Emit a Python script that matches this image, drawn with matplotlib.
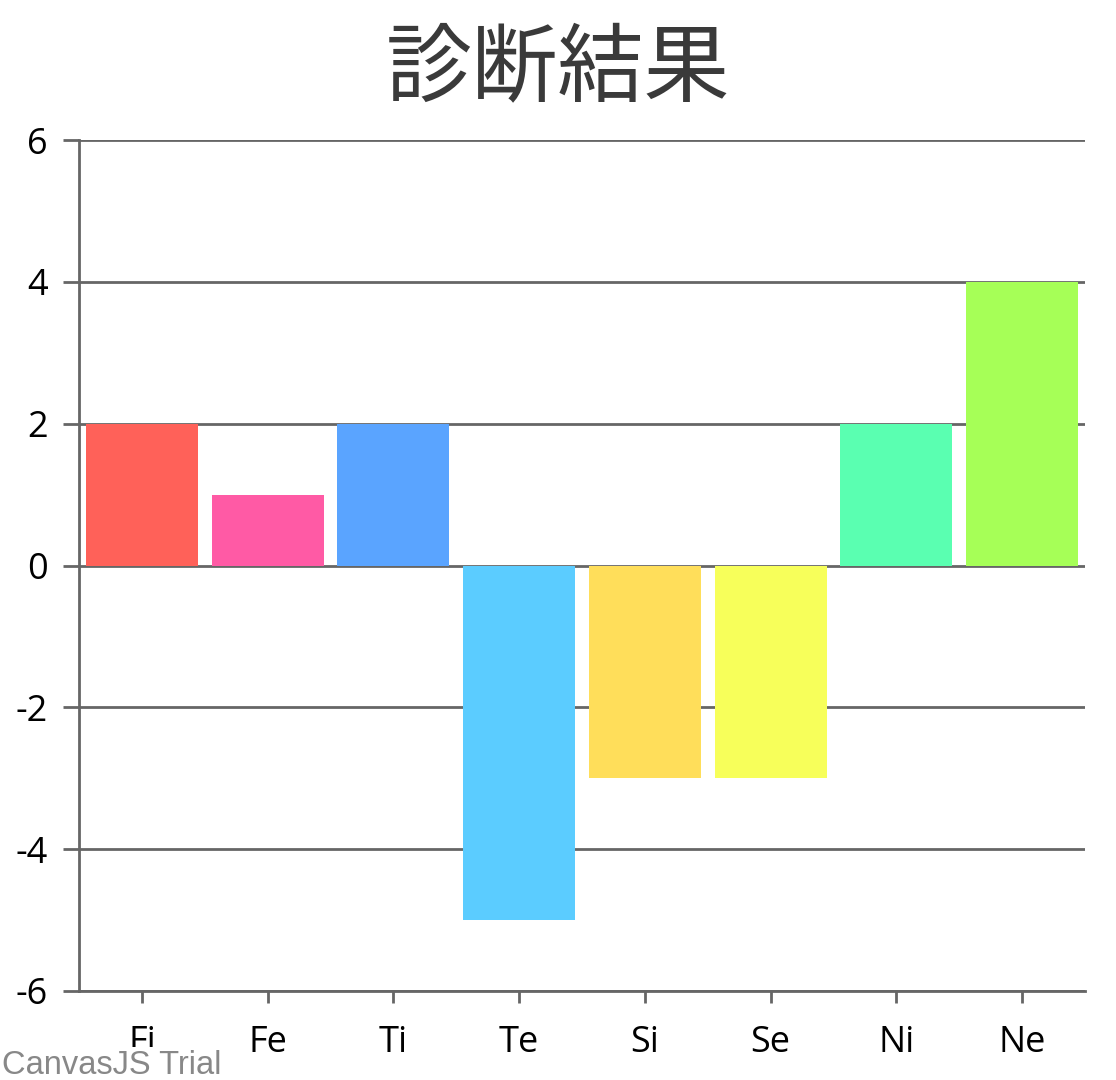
import matplotlib
matplotlib.use("Agg")

import matplotlib.pyplot as plt

# Datos del gráfico
categorias = ["Fi", "Fe", "Ti", "Te", "Si", "Se", "Ni", "Ne"]
valores = [2, 1, 2, -5, -3, -3, 2, 4]
colores = ["#FF6159", "#FF5AA5", "#5AA4FF", "#5BCCFF",
           "#FFDE5A", "#F7FF5A", "#5AFFB1", "#A6FF57"]
ticks_y = [-6, -4, -2, 0, 2, 4, 6]

GRIS = "#666666"

plt.rcParams["font.family"] = ["Open Sans", "DejaVu Sans"]

fig = plt.figure(figsize=(11.16, 10.8), dpi=100)
ax = fig.add_axes([79 / 1116, 1 - 991 / 1080, (1085 - 79) / 1116, (991 - 140) / 1080])

ax.bar(range(len(categorias)), valores, width=0.89, color=colores, zorder=3)

ax.set_xlim(-0.5, len(categorias) - 0.5)
ax.set_ylim(-6, 6)
ax.set_yticks(ticks_y)
ax.set_yticklabels([str(v) for v in ticks_y])
ax.set_xticks(range(len(categorias)))
ax.set_xticklabels(categorias)

ax.grid(axis="y", color=GRIS, lw=2, zorder=1)
ax.tick_params(axis="y", length=11.5, width=2, color=GRIS, pad=11,
               labelsize=26, labelcolor="black")
ax.tick_params(axis="x", length=8.6, width=2, color=GRIS, pad=16,
               labelsize=26, labelcolor="black")
for lado in ("top", "right"):
    ax.spines[lado].set_visible(False)
for lado in ("left", "bottom"):
    ax.spines[lado].set_color(GRIS)
    ax.spines[lado].set_linewidth(2)

fig.text(0.5, 1 - 70 / 1080, "診断結果", ha="center", va="center",
         fontsize=62, color="#3a3a3a",
         family=["Noto Sans CJK JP", "DejaVu Sans"])

# Marca de agua (tapa parte de la etiqueta "Fi", como en el original)
fig.text(2 / 1116, 1 - 1065 / 1080, "CanvasJS Trial", ha="left", va="center",
         fontsize=23.5, color="#888888", family=["Liberation Sans"],
         bbox=dict(facecolor="white", edgecolor="none", pad=2))

fig.savefig("out.png", dpi=100, facecolor="white")
